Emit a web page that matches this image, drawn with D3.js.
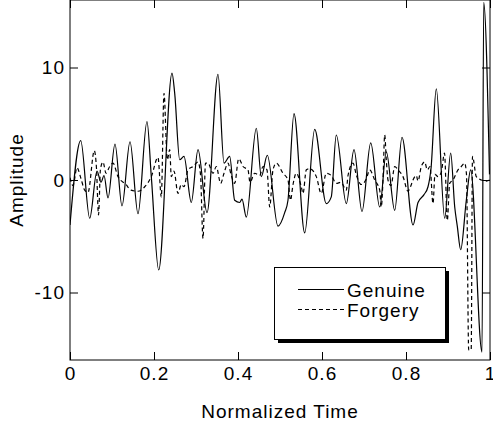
<!DOCTYPE html>
<html>
<head>
<meta charset="utf-8">
<script src="https://cdn.jsdelivr.net/npm/d3@7"></script>
<style>
  body { margin: 0; background: #fff; }
  text { font-family: "Liberation Sans", Arial, sans-serif; font-size: 19px; letter-spacing: 1px; fill: #000; }
</style>
</head>
<body>
<div id="chart"></div>
<script>
// Genuine signature signal (normalized time, amplitude)
const genuineT = [0.000, 0.0255, 0.0469, 0.0643, 0.0738, 0.0810, 0.0905, 0.1071, 0.1238, 0.1429,
    0.1619, 0.1833, 0.1936, 0.2112, 0.2429, 0.2493, 0.2612, 0.2714, 0.2888, 0.3048,
    0.3262, 0.3524, 0.3667, 0.3802, 0.3921, 0.4040, 0.4095, 0.4198, 0.4436, 0.4555,
    0.4698, 0.4952, 0.5112, 0.5190, 0.5333, 0.5588, 0.5826, 0.6102, 0.6221, 0.6340,
    0.6579, 0.6762, 0.6952, 0.7160, 0.7374, 0.7531, 0.7731, 0.7905, 0.8167, 0.8286,
    0.8429, 0.8524, 0.8595, 0.8721, 0.8921, 0.9064, 0.9160, 0.9221, 0.9302, 0.9436,
    0.9540, 0.9810, 0.9850, 0.9988];
const genuineAmp = [-4.0, 3.5, -3.4, 0.8, -0.2, 0.4, -1.6, 3.2, -2.3, 3.4,
    -3.0, 5.2, 0.3, -8.0, 9.5, 7.7, 1.8, 2.1, -2.0, 2.7,
    -2.9, 9.4, 1.5, 2.1, -1.8, -2.0, -1.7, -3.3, 4.6, 0.3,
    2.2, -4.1, -2.9, -1.8, 5.9, -4.7, 4.5, -2.1, -1.5, 4.0,
    -2.1, 2.7, -2.8, 3.3, -2.4, 2.5, -2.7, 3.8, -4.0, -2.0,
    -1.3, -0.6, 1.0, 8.1, -3.4, 2.4, -2.4, -4.1, -6.2, -1.8,
    0.9, -15.3, 15.8, 0.5];

// Forgery signal
const forgeryT = [0.000, 0.0071, 0.0167, 0.0255, 0.0350, 0.0429, 0.0579, 0.0631, 0.0679, 0.0726,
    0.0786, 0.0857, 0.0945, 0.1024, 0.1143, 0.1333, 0.1452, 0.1619, 0.1779, 0.1936,
    0.2095, 0.2174, 0.2238, 0.2317, 0.2374, 0.2412, 0.2476, 0.2571, 0.2650, 0.2714,
    0.2810, 0.2929, 0.3048, 0.3107, 0.3167, 0.3226, 0.3286, 0.3405, 0.3483, 0.3588,
    0.3667, 0.3762, 0.3833, 0.3921, 0.4017, 0.4119, 0.4238, 0.4286, 0.4398, 0.4517,
    0.4595, 0.4690, 0.4755, 0.4833, 0.4912, 0.5071, 0.5190, 0.5250, 0.5310, 0.5388,
    0.5507, 0.5548, 0.5626, 0.5707, 0.5864, 0.5983, 0.6102, 0.6221, 0.6340, 0.6452,
    0.6579, 0.6619, 0.6738, 0.6821, 0.6936, 0.7055, 0.7136, 0.7255, 0.7374, 0.7412,
    0.7452, 0.7493, 0.7531, 0.7571, 0.7643, 0.7731, 0.7810, 0.7929, 0.8048, 0.8107,
    0.8167, 0.8245, 0.8286, 0.8364, 0.8445, 0.8507, 0.8571, 0.8643, 0.8690, 0.8762,
    0.8840, 0.8917, 0.8983, 0.9040, 0.9119, 0.9238, 0.9317, 0.9398, 0.9440, 0.9493,
    0.9552, 0.9583, 0.9674, 0.9793, 0.9912, 0.9993];
const forgeryAmp = [0.2, -0.5, 1.1, 0.2, -0.9, -1.1, 2.6, 1.0, -3.1, 1.0,
    1.6, 0.6, 1.2, 1.5, 0.3, -0.4, -0.9, -1.0, -0.6, 0.3,
    2.0, -1.5, 7.7, 1.8, 2.7, 0.3, 0.8, -1.2, -0.4, -0.6,
    0.9, 1.2, 1.6, 0.5, -5.2, 1.5, 1.5, 0.6, 1.2, -0.3,
    0.6, 1.5, 0.5, -0.3, 1.9, 1.2, 0.9, -0.2, 0.6, 0.4,
    1.2, 0.9, -2.4, 0.9, 1.5, 0.6, 0.0, -1.8, -0.4, 0.6,
    -0.6, -1.2, 0.9, 1.0, 0.3, -1.2, 0.6, 0.4, -0.3, -0.2,
    -0.9, 0.4, 1.5, 0.4, -0.4, 0.1, 0.9, 0.0, -0.9, -2.4,
    0.0, 4.0, 1.8, 0.0, -0.5, 1.2, 0.9, 0.3, -1.0, -0.6,
    0.0, 0.4, -0.1, 1.2, 1.6, 0.9, 1.2, -2.1, 0.5, 0.3,
    0.7, 2.4, -3.6, -0.3, 0.0, 0.9, 1.2, 1.5, 0.5, -15.1,
    -15.1, 2.1, 0.3, 0.0, -0.1, 0.0];

const xTicks = [0, 0.2, 0.4, 0.6, 0.8, 1];
const yTicks = [-10, 0, 10];
const seriesNames = ['Genuine', 'Forgery'];

function createSignalChart(containerId)
{
    const width = 493;
    const height = 427;
    const margin = { top: 0, right: 3, bottom: 67, left: 70 };

    const svg = d3.select(containerId)
        .append('svg')
        .attr('width', width)
        .attr('height', height);

    const xScale = d3.scaleLinear()
        .domain([0, 1])
        .range([margin.left, width - margin.right]);

    const yScale = d3.scaleLinear()
        .domain([-16, 16])
        .range([height - margin.bottom, margin.top]);

    const x0 = xScale(0), x1 = xScale(1);
    const y0 = yScale(-16), y1 = yScale(16);

    svg.append('clipPath')
        .attr('id', 'plot-clip')
        .append('rect')
        .attr('x', x0)
        .attr('y', y1)
        .attr('width', x1 - x0)
        .attr('height', y0 - y1);

    const line = d3.line()
        .x(d => xScale(d[0]))
        .y(d => yScale(d[1]))
        .curve(d3.curveMonotoneX);

    const genuine = genuineT.map((t, i) => [t, genuineAmp[i]]);
    const forgery = forgeryT.map((t, i) => [t, forgeryAmp[i]]);

    const plot = svg.append('g').attr('clip-path', 'url(#plot-clip)');

    plot.append('path')
        .datum(forgery)
        .attr('fill', 'none')
        .attr('stroke', '#000')
        .attr('stroke-width', 1.2)
        .attr('stroke-dasharray', '4,3')
        .attr('d', line);

    plot.append('path')
        .datum(genuine)
        .attr('fill', 'none')
        .attr('stroke', '#000')
        .attr('stroke-width', 1.2)
        .attr('d', line);

    // Axes with inward ticks
    const xAxis = d3.axisBottom(xScale)
        .tickValues(xTicks)
        .tickFormat(d => String(d))
        .tickSizeInner(-8)
        .tickSizeOuter(0)
        .tickPadding(6.5);
    svg.append('g')
        .attr('transform', `translate(0, ${y0})`)
        .call(xAxis)
        .call(g => g.select('.domain').remove());

    const yAxis = d3.axisLeft(yScale)
        .tickValues(yTicks)
        .tickFormat(d => String(d))   // plain hyphen, as in the original
        .tickSizeInner(-8)
        .tickSizeOuter(0)
        .tickPadding(5);
    svg.append('g')
        .attr('transform', `translate(${x0}, 0)`)
        .call(yAxis)
        .call(g => g.select('.domain').remove());

    // Mirror ticks on top and right
    svg.append('g')
        .attr('transform', `translate(0, ${y1})`)
        .call(d3.axisTop(xScale).tickValues(xTicks).tickFormat('').tickSizeInner(-8).tickSizeOuter(0))
        .call(g => g.select('.domain').remove());

    svg.append('g')
        .attr('transform', `translate(${x1}, 0)`)
        .call(d3.axisRight(yScale).tickValues(yTicks).tickFormat('').tickSizeInner(-8).tickSizeOuter(0))
        .call(g => g.select('.domain').remove());

    svg.selectAll('.tick line').attr('stroke', '#000');
    svg.selectAll('.tick text')
        .style('font-size', '19px')
        .style('font-family', '"Liberation Sans", Arial, sans-serif');

    // Frame
    svg.append('rect')
        .attr('x', x0)
        .attr('y', y1)
        .attr('width', x1 - x0)
        .attr('height', y0 - y1)
        .attr('fill', 'none')
        .attr('stroke', '#000')
        .attr('stroke-width', 1);

    // Labels
    svg.append('text')
        .attr('x', (x0 + x1) / 2)
        .attr('y', 418)
        .style('text-anchor', 'middle')
        .text('Normalized Time');

    svg.append('text')
        .attr('transform', 'rotate(-90)')
        .attr('x', -yScale(0))
        .attr('y', 23)
        .style('text-anchor', 'middle')
        .text('Amplitude');

    // Legend with drop shadow
    const legend = svg.append('g')
        .attr('transform', 'translate(274, 267)');

    legend.append('rect')
        .attr('x', 4)
        .attr('y', 4)
        .attr('width', 171)
        .attr('height', 72)
        .attr('fill', '#000');

    legend.append('rect')
        .attr('x', 0.5)
        .attr('y', 0.5)
        .attr('width', 171)
        .attr('height', 72)
        .attr('fill', '#fff')
        .attr('stroke', '#000');

    seriesNames.forEach((name, i) => {
        const ly = 22.5 + i * 20;
        legend.append('line')
            .attr('x1', 24)
            .attr('x2', 70)
            .attr('y1', ly)
            .attr('y2', ly)
            .attr('stroke', '#000')
            .attr('stroke-width', 1.1)
            .attr('stroke-dasharray', i === 1 ? '4,3' : null);
        legend.append('text')
            .attr('x', 73)
            .attr('y', ly + 7.5)
            .text(name);
    });
}

createSignalChart('#chart');
</script>
</body>
</html>
